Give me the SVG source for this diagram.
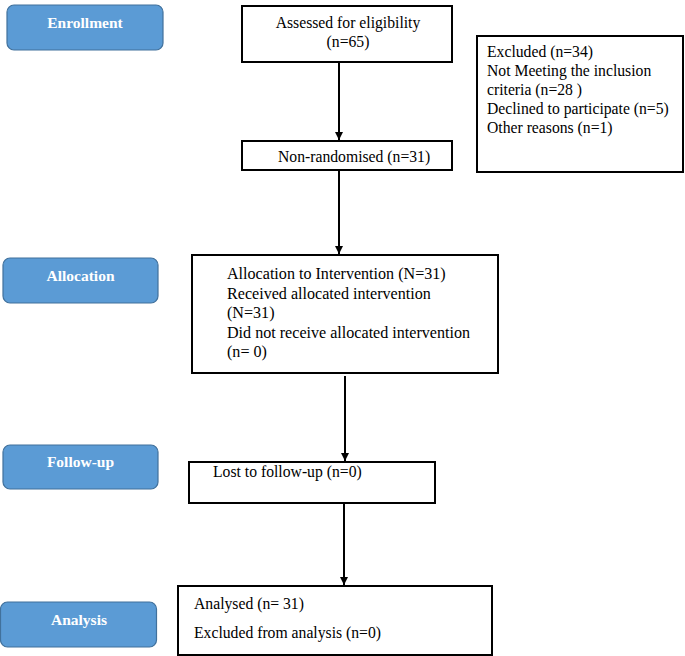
<svg xmlns="http://www.w3.org/2000/svg" width="685" height="656" viewBox="0 0 685 656">
<defs>
<marker id="ah" viewBox="0 0 10 10" refX="10" refY="5" markerWidth="8" markerHeight="8" markerUnits="userSpaceOnUse" orient="auto">
<path d="M0,0 L10,5 L0,10 Z" fill="#000"/>
</marker>
<style>
.stage{fill:#5B9BD5;stroke:#41719C;stroke-width:1.2}
.stxt{font-family:"Liberation Serif","Times New Roman",serif;font-weight:bold;font-size:15.5px;fill:#fff;text-anchor:middle}
.box{fill:#fff;stroke:#000;stroke-width:2}
.t{font-family:"Liberation Serif","Times New Roman",serif;font-size:15.7px;fill:#000}
.big{font-size:16.1px}
.c{text-anchor:middle}
.conn{stroke:#000;stroke-width:2;fill:none;marker-end:url(#ah)}
</style>
</defs>
<rect width="685" height="656" fill="#fff"/>
<g id="stage-enrollment"><rect class="stage" x="7" y="5" width="156" height="45" rx="7"/><text class="stxt" x="85" y="28">Enrollment</text></g>
<g id="stage-allocation"><rect class="stage" x="3" y="258" width="155" height="45" rx="7"/><text class="stxt" x="80.5" y="281">Allocation</text></g>
<g id="stage-followup"><rect class="stage" x="3" y="445" width="155" height="44" rx="7"/><text class="stxt" x="80.5" y="467">Follow-up</text></g>
<g id="stage-analysis"><rect class="stage" x="0.5" y="602" width="156" height="45" rx="7"/><text class="stxt" x="79" y="625">Analysis</text></g>

<g id="assessed"><rect class="box" x="242" y="6" width="210" height="56"/><text class="t c" x="348" y="28">Assessed for eligibility</text><text class="t c" x="348" y="47">(n=65)</text></g>
<g id="excluded"><rect class="box" x="477" y="36" width="206" height="136"/>
<text class="t" x="487" y="57">Excluded (n=34)</text>
<text class="t" x="487" y="76">Not Meeting the inclusion</text>
<text class="t" x="487" y="95">criteria (n=28 )</text>
<text class="t" x="487" y="114">Declined to participate (n=5)</text>
<text class="t" x="487" y="133">Other reasons (n=1)</text></g>
<g id="nonrandomised"><rect class="box" x="242" y="141" width="210" height="29"/><text class="t" x="278" y="162">Non-randomised (n=31)</text></g>
<g id="allocation"><rect class="box" x="192" y="255" width="306" height="118"/>
<text class="t big" x="227" y="279">Allocation to Intervention (N=31)</text>
<text class="t big" x="227" y="299">Received allocated intervention</text>
<text class="t big" x="227" y="318">(N=31)</text>
<text class="t big" x="227" y="338">Did not receive allocated intervention</text>
<text class="t big" x="227" y="357">(n= 0)</text></g>
<g id="lost"><rect class="box" x="189" y="462" width="246" height="41"/><text class="t" x="213" y="477">Lost to follow-up (n=0)</text></g>
<g id="analysed"><rect class="box" x="178" y="586" width="314" height="69"/>
<text class="t" x="194" y="609">Analysed (n= 31)</text>
<text class="t" x="194" y="638">Excluded from analysis (n=0)</text></g>

<g id="connectors">
<line class="conn" x1="339" y1="62" x2="339" y2="140"/>
<line class="conn" x1="339" y1="170" x2="339" y2="254"/>
<line class="conn" x1="345" y1="376" x2="345" y2="461"/>
<line class="conn" x1="344" y1="503" x2="344" y2="585"/>
</g>
</svg>
